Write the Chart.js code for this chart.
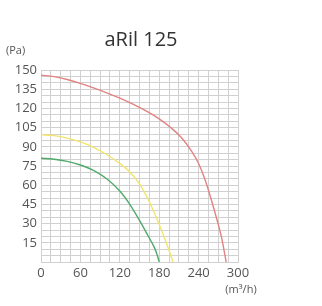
<!DOCTYPE html>
<html>
<head>
<meta charset="utf-8">
<script src="https://cdn.jsdelivr.net/npm/chart.js@4/dist/chart.umd.min.js"></script>
<style>
  body { margin: 0; background: #fff; }
  #grafico { display: block; }
</style>
</head>
<body>
<canvas id="grafico" width="322" height="306"></canvas>
<script>
// curvas (caudal m3/h, presion Pa)
const caudalRojo = [0, 20, 40, 60, 80, 100, 120, 140, 160, 180, 200, 215, 230, 240, 250, 260, 268, 275, 282];
const presionRojo = [146, 144.8, 142.6, 139.6, 136, 132.2, 128, 123.3, 118, 111.8, 104, 96.5, 86, 77, 64, 47.5, 33, 19, 0];

const caudalAmarillo = [0, 20, 40, 60, 80, 100, 120, 135, 150, 163, 175, 186, 194, 201];
const presionAmarillo = [99.5, 98.7, 96.8, 93.8, 89.6, 84, 77, 70.5, 61, 49, 35.5, 21.5, 10.5, 0];

const caudalVerde = [0, 20, 40, 60, 80, 100, 120, 135, 150, 163, 172, 177, 180];
const presionVerde = [81, 80.3, 78.6, 75.8, 71.6, 65, 55.5, 45.2, 32.5, 20.5, 12, 5.5, 0];

const etiquetasX = [0, 60, 120, 180, 240, 300];
const etiquetasY = [15, 30, 45, 60, 75, 90, 105, 120, 135, 150];

const titulo = 'aRil 125';
const unidadY = '(Pa)';
const unidadX = '(m³/h)';

function puntos(xs, ys) {
  return xs.map(function (x, i) { return { x: x, y: ys[i] }; });
}

const textos = {
  id: 'textos',
  afterDraw: function (chart) {
    const ctx = chart.ctx;
    ctx.save();
    ctx.fillStyle = '#333';
    ctx.font = '20px "Open Sans", sans-serif';
    ctx.textAlign = 'center';
    ctx.textBaseline = 'middle';
    ctx.fillText(titulo, 141, 40);
    ctx.fillStyle = '#555';
    ctx.font = '11px "Open Sans", sans-serif';
    ctx.textAlign = 'left';
    ctx.fillText(unidadY, 6, 51);
    ctx.textAlign = 'center';
    ctx.fillText(unidadX, 241, 290);
    ctx.restore();
  }
};

const ctx = document.getElementById('grafico');
new Chart(ctx, {
  type: 'line',
  data: {
    datasets: [
      { data: puntos(caudalRojo, presionRojo), borderColor: '#e28282' },
      { data: puntos(caudalAmarillo, presionAmarillo), borderColor: '#f2e56a' },
      { data: puntos(caudalVerde, presionVerde), borderColor: '#4faa6a' }
    ]
  },
  options: {
    responsive: false,
    animation: false,
    elements: {
      point: { radius: 0 },
      line: { borderWidth: 1.4, cubicInterpolationMode: 'monotone', fill: false }
    },
    layout: { padding: { top: 70, right: 84, bottom: 0, left: 0 } },
    plugins: { legend: { display: false }, tooltip: { enabled: false } },
    scales: {
      x: {
        type: 'linear',
        min: 0,
        max: 300,
        afterBuildTicks: function (scale) {
          const t = [];
          for (let v = 0; v <= 300; v += 15) t.push({ value: v });
          scale.ticks = t;
        },
        afterFit: function (scale) { scale.height = 44; },
        ticks: {
          autoSkip: false,
          maxRotation: 0,
          padding: 3,
          color: '#555',
          font: { family: '"Open Sans", sans-serif', size: 13 },
          callback: function (v) { return etiquetasX.indexOf(v) >= 0 ? String(v) : ''; }
        },
        grid: { color: '#d0d0d0', drawTicks: false },
        border: { color: '#d0d0d0' }
      },
      y: {
        min: 0,
        max: 150,
        afterBuildTicks: function (scale) {
          const t = [];
          for (let v = 0; v <= 150; v += 5) t.push({ value: v });
          scale.ticks = t;
        },
        afterFit: function (scale) { scale.width = 41; },
        ticks: {
          autoSkip: false,
          padding: 4,
          color: '#555',
          font: { family: '"Open Sans", sans-serif', size: 13 },
          callback: function (v) { return etiquetasY.indexOf(v) >= 0 ? String(v) : ''; }
        },
        grid: { color: '#d0d0d0', drawTicks: false },
        border: { color: '#d0d0d0' }
      }
    }
  },
  plugins: [textos]
});
</script>
</body>
</html>
